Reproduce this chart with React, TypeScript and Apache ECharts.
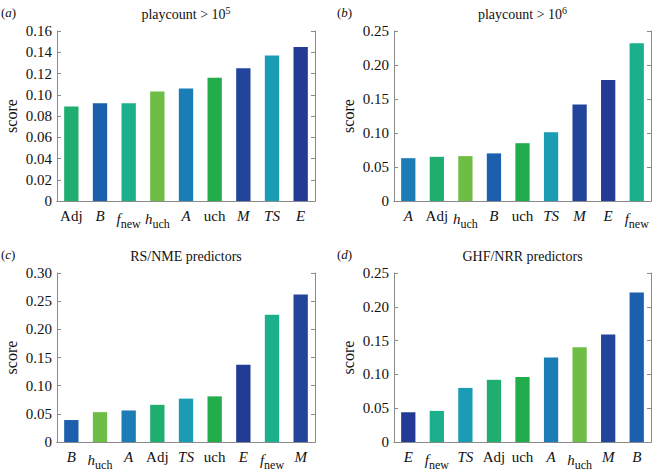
import React, { useEffect, useRef } from "react";
import * as echarts from "echarts";

const CATS_A = ["Adj", "B", "f_new", "h_uch", "A", "uch", "M", "TS", "E"];
const VALS_A = [0.089, 0.092, 0.092, 0.103, 0.106, 0.116, 0.125, 0.137, 0.145];

const CATS_B = ["A", "Adj", "h_uch", "B", "uch", "TS", "M", "E", "f_new"];
const VALS_B = [0.063, 0.065, 0.066, 0.07, 0.085, 0.101, 0.142, 0.178, 0.232];

const CATS_C = ["B", "h_uch", "A", "Adj", "TS", "uch", "E", "f_new", "M"];
const VALS_C = [0.039, 0.053, 0.056, 0.066, 0.077, 0.081, 0.137, 0.226, 0.262];

const CATS_D = ["E", "f_new", "TS", "Adj", "uch", "A", "h_uch", "M", "B"];
const VALS_D = [0.044, 0.046, 0.08, 0.092, 0.096, 0.125, 0.14, 0.159, 0.221];

const Y_MAX = [0.16, 0.25, 0.3, 0.25];
const Y_STEP = [0.02, 0.05, 0.05, 0.05];

const TITLES = ["playcount > 10{sup|5}", "playcount > 10{sup|6}", "RS/NME predictors", "GHF/NRR predictors"];
const PANEL_LABELS = ["a", "b", "c", "d"];

const COLORS: Record<string, string> = {
  Adj: "#1fae70",
  B: "#1b5fae",
  f_new: "#1caf8b",
  h_uch: "#6ebe46",
  A: "#1a7db5",
  uch: "#21ad4b",
  M: "#22449b",
  TS: "#1a9cb5",
  E: "#233b95",
};

const FONT = "Liberation Serif";
const TXT = "#111";
const AX = "#8a8a8a";

function catFmt(c: string): string {
  if (c === "f_new") return "{i|f}{s|new}";
  if (c === "h_uch") return "{i|h}{s|uch}";
  if (c === "Adj" || c === "uch") return "{n|" + c + "}";
  return "{i|" + c + "}";
}

export default function App() {
  const ref = useRef<HTMLDivElement>(null);
  useEffect(() => {
    document.body.style.margin = "0";
    if (!ref.current) return;
    const chart = echarts.init(ref.current, undefined, { renderer: "svg" });
    const cats = [CATS_A, CATS_B, CATS_C, CATS_D];
    const vals = [VALS_A, VALS_B, VALS_C, VALS_D];
    const grids = [
      { left: 57, top: 31, width: 258, height: 170 },
      { left: 394, top: 31, width: 257, height: 170 },
      { left: 57, top: 273, width: 258, height: 171 },
      { left: 394, top: 273, width: 257, height: 171 },
    ];
    const rich = {
      i: { fontFamily: FONT, fontStyle: "italic", fontSize: 15, color: TXT },
      n: { fontFamily: FONT, fontSize: 15, color: TXT },
      s: { fontFamily: FONT, fontSize: 12, color: TXT, padding: [10, 0, 0, 0] },
    };
    const xAxis: any[] = [];
    const yAxis: any[] = [];
    const series: any[] = [];
    const graphic: any[] = [];
    for (let k = 0; k < 4; k++) {
      xAxis.push({
        type: "category",
        gridIndex: k,
        data: cats[k],
        axisLine: { lineStyle: { color: AX } },
        axisTick: { inside: true, alignWithLabel: true, length: 4, lineStyle: { color: AX } },
        axisLabel: { interval: 0, margin: 7, formatter: catFmt, rich, fontFamily: FONT },
      });
      yAxis.push({
        type: "value",
        gridIndex: k,
        min: 0,
        max: Y_MAX[k],
        interval: Y_STEP[k],
        name: "score",
        nameLocation: "middle",
        nameGap: 38,
        nameTextStyle: { fontFamily: FONT, fontSize: 16, color: TXT },
        axisLine: { show: true, lineStyle: { color: AX } },
        axisTick: { show: true, inside: true, length: 4, lineStyle: { color: AX } },
        splitLine: { show: false },
        axisLabel: {
          margin: 5,
          fontFamily: FONT,
          fontSize: 15,
          color: TXT,
          formatter: (v: number) => (v === 0 ? "0" : v.toFixed(2)),
        },
      });
      series.push({
        type: "bar",
        xAxisIndex: k,
        yAxisIndex: k,
        barWidth: "50%",
        data: vals[k].map((v, j) => ({ value: v, itemStyle: { color: COLORS[cats[k][j]] } })),
      });
      const g = grids[k];
      graphic.push({
        type: "text",
        x: g.left + g.width / 2,
        y: g.top - 17,
        style: {
          text: TITLES[k],
          align: "center",
          verticalAlign: "middle",
          fontFamily: FONT,
          fontSize: 14,
          fill: TXT,
          rich: {
            sup: { fontFamily: FONT, fontSize: 10, fill: TXT, padding: [0, 0, 7, 0] },
          },
        },
      });
      graphic.push({
        type: "text",
        x: k % 2 === 0 ? 1 : 337,
        y: g.top - 19,
        style: {
          text: "({i|" + PANEL_LABELS[k] + "})",
          align: "left",
          verticalAlign: "middle",
          fontFamily: FONT,
          fontSize: 13,
          fill: TXT,
          rich: { i: { fontFamily: FONT, fontStyle: "italic", fontSize: 13, fill: TXT } },
        },
      });
    }
    for (let k = 0; k < 4; k++) {
      xAxis.push({
        type: "category",
        gridIndex: k,
        position: "top",
        data: cats[k],
        axisLine: { lineStyle: { color: AX } },
        axisTick: { inside: true, alignWithLabel: true, length: 4, lineStyle: { color: AX } },
        axisLabel: { show: false },
      });
      yAxis.push({
        type: "value",
        gridIndex: k,
        position: "right",
        min: 0,
        max: Y_MAX[k],
        interval: Y_STEP[k],
        axisLine: { show: true, lineStyle: { color: AX } },
        axisTick: { show: true, inside: true, length: 4, lineStyle: { color: AX } },
        splitLine: { show: false },
        axisLabel: { show: false },
      });
    }
    chart.setOption({
      animation: false,
      backgroundColor: "#ffffff",
      textStyle: { fontFamily: FONT },
      grid: grids,
      xAxis,
      yAxis,
      series,
      graphic,
    });
    return () => chart.dispose();
  }, []);
  return <div ref={ref} style={{ width: 653, height: 471 }} />;
}
